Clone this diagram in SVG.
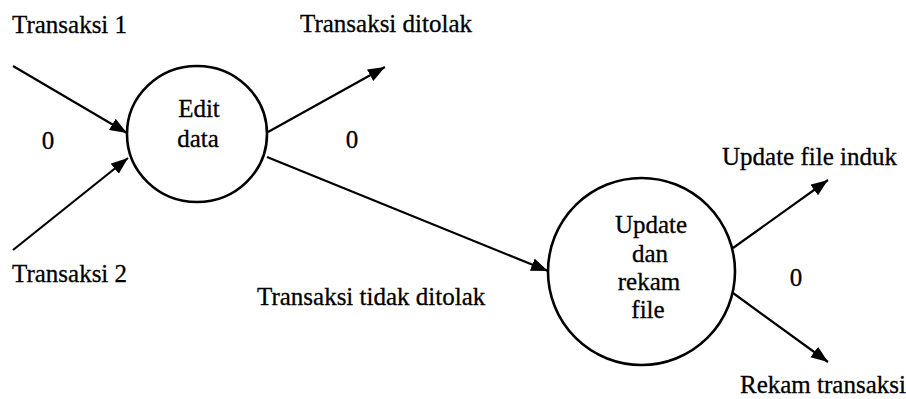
<svg xmlns="http://www.w3.org/2000/svg" width="906" height="399" viewBox="0 0 906 399">
  <style>
    .bg { fill: #ffffff; }
    .proc { fill: none; stroke: #000000; stroke-width: 2.6; }
    .flow { fill: none; stroke: #000000; stroke-width: 2.2; marker-end: url(#head); }
    .lbl { font-family: "Liberation Serif", "Times New Roman", serif; font-size: 25px; fill: #000000; stroke: #000000; stroke-width: 0.3; }
    .mid { text-anchor: middle; }
  </style>
  <defs>
    <marker id="head" markerUnits="userSpaceOnUse" markerWidth="18" markerHeight="14" refX="17" refY="6.5" orient="auto">
      <path d="M0,0 L17,6.5 L0,13 z" fill="#000000"/>
    </marker>
  </defs>
  <rect class="bg" x="0" y="0" width="906" height="399"/>

  <!-- data flows -->
  <g id="connectors">
    <line class="flow" x1="13" y1="66" x2="127" y2="133"/>
    <line class="flow" x1="13" y1="250" x2="128" y2="158"/>
    <line class="flow" x1="268" y1="132" x2="385" y2="67"/>
    <line class="flow" x1="267" y1="157" x2="548" y2="271"/>
    <line class="flow" x1="733" y1="248" x2="828" y2="180"/>
    <line class="flow" x1="733" y1="293" x2="828" y2="362"/>
  </g>

  <!-- process 1 -->
  <g id="edit-data">
    <ellipse class="proc" cx="197" cy="134" rx="70" ry="68"/>
    <text class="lbl mid" x="199" y="117">Edit</text>
    <text class="lbl mid" x="198" y="147">data</text>
  </g>

  <!-- process 2 -->
  <g id="update-rekam">
    <circle class="proc" cx="641.5" cy="271.5" r="93.5"/>
    <text class="lbl mid" x="651" y="233">Update</text>
    <text class="lbl mid" x="650" y="262">dan</text>
    <text class="lbl mid" x="649" y="290">rekam</text>
    <text class="lbl mid" x="648" y="318">file</text>
  </g>

  <!-- flow labels -->
  <g id="labels">
    <text class="lbl" x="12" y="33">Transaksi 1</text>
    <text class="lbl" x="12" y="282">Transaksi 2</text>
    <text class="lbl" x="300" y="32">Transaksi ditolak</text>
    <text class="lbl" x="257" y="305">Transaksi tidak ditolak</text>
    <text class="lbl" x="722" y="165">Update file induk</text>
    <text class="lbl" x="740" y="393">Rekam transaksi</text>
    <text class="lbl mid" x="48" y="149">0</text>
    <text class="lbl mid" x="352" y="148">0</text>
    <text class="lbl mid" x="796" y="286">0</text>
  </g>
</svg>
